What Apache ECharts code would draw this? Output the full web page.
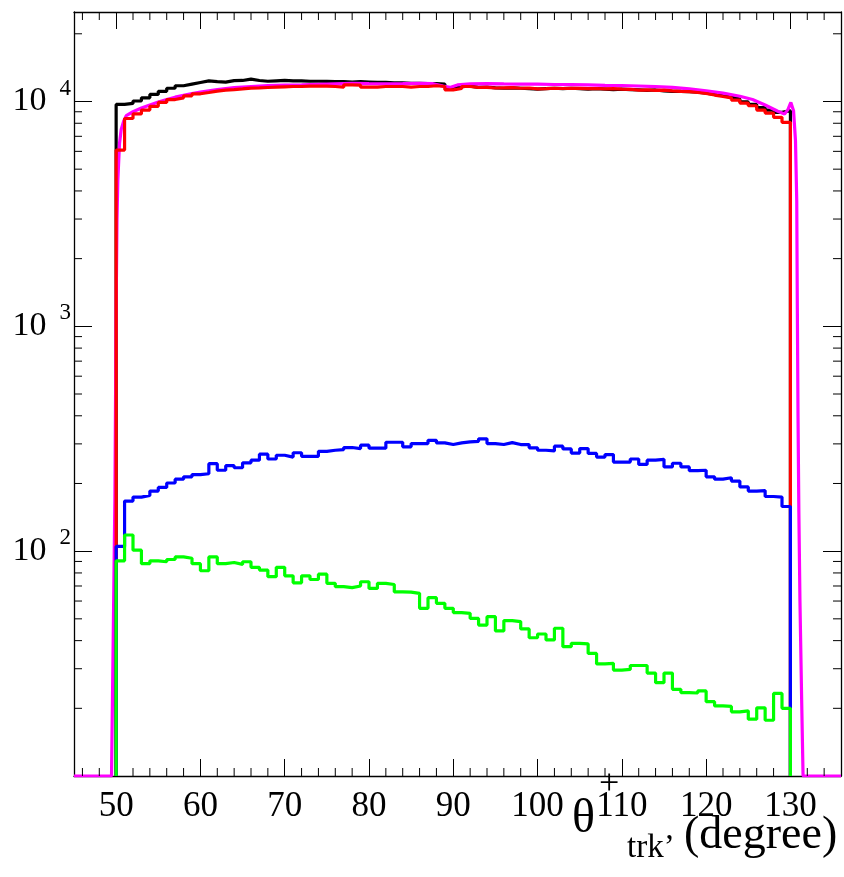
<!DOCTYPE html>
<html><head><meta charset="utf-8">
<script src="https://cdn.jsdelivr.net/npm/echarts@6/dist/echarts.min.js"></script>
<style>html,body{margin:0;padding:0;background:#fff}#c{width:844px;height:877px}</style>
</head><body><div id="c"></div>
<script>
// ---- data ----
const binStart = 50;      // first bin low edge (degree)
const binWidth = 1;       // bin width (degree)
const blackCounts = [9700, 9800, 10050, 10380, 10750, 11100, 11450, 11750, 11950, 12150,
 12350, 12250, 12200, 12380, 12400, 12570, 12400, 12300, 12350, 12400,
 12350, 12350, 12300, 12300, 12280, 12250, 12250, 12200, 12250, 12200,
 12150, 12150, 12100, 12100, 12050, 12050, 12000, 12000, 11950, 11500,
 11650, 11700, 11550, 11600, 11500, 11450, 11500, 11450, 11400, 11350,
 11400, 11450, 11400, 11450, 11400, 11350, 11400, 11350, 11300, 11350,
 11300, 11250, 11200, 11250, 11150, 11100, 11100, 11050, 11000, 10900,
 10750, 10600, 10450, 10250, 9950, 9700, 9400, 9150, 8950, 9100];
const redCounts = [6080, 8400, 8800, 9160, 9520, 9900, 10200, 10380, 10600, 10820,
 10960, 11120, 11230, 11300, 11380, 11470, 11500, 11540, 11580, 11620,
 11660, 11660, 11710, 11710, 11710, 11660, 11580, 11860, 11830, 11580,
 11580, 11660, 11660, 11660, 11580, 11660, 11660, 11750, 11660, 11270,
 11420, 11660, 11540, 11560, 11480, 11500, 11520, 11450, 11480, 11380,
 11400, 11450, 11420, 11450, 11430, 11400, 11420, 11380, 11400, 11350,
 11330, 11240, 11250, 11200, 11230, 11150, 11080, 11060, 10960, 10850,
 10680, 10520, 10380, 10140, 9840, 9570, 9160, 8880, 8500, 8080];
const blueCounts = [105, 167, 174, 177, 185, 192, 201, 209, 214, 219,
 221, 245, 229, 240, 235, 247, 254, 270, 257, 267,
 262, 274, 264, 264, 278, 281, 283, 289, 286, 296,
 287, 287, 305, 305, 291, 301, 301, 311, 303, 298,
 303, 306, 308, 316, 301, 298, 304, 298, 298, 288,
 281, 279, 293, 285, 273, 286, 272, 262, 269, 249,
 249, 257, 243, 254, 256, 237, 246, 237, 228, 229,
 214, 209, 212, 205, 193, 185, 186, 175, 174, 158];
const greenCounts = [90.6, 118, 101, 88, 90.6, 89.7, 91.8, 94.3, 93, 88,
 81.8, 94.3, 88, 89, 87.3, 89.7, 84.7, 82.4, 77, 84.7,
 77.7, 72.3, 77.7, 74.8, 79, 71.9, 69.5, 68.8, 70, 73.1,
 68.3, 71.9, 71.1, 65.9, 65.7, 64.9, 55.7, 62.1, 58.6, 55.7,
 53.3, 52.9, 50.2, 46.9, 51.1, 44.2, 49.1, 48.6, 45.1, 41.2,
 42.8, 40.3, 45.4, 37.6, 38.9, 38.7, 35.1, 31.5, 31.7, 29.6,
 29.8, 31, 31, 28.7, 26, 28.7, 24.3, 23.5, 23.4, 23.9,
 21.4, 20.5, 20.4, 19.3, 19.5, 17.9, 20.1, 17.7, 23.3, 20];
const magentaX = [45, 49.45, 49.65, 49.85, 50.0, 50.1, 50.2, 50.4, 50.6, 50.9,
 51.2, 52, 53, 54, 55, 56, 57, 58, 59, 60,
 61, 62, 63, 64, 66, 68, 70, 72, 74, 76,
 78, 80, 82, 84, 86, 87.5, 88.8, 89.6, 90.5, 92,
 94, 96, 98, 100, 102, 104, 106, 108, 110, 112,
 114, 116, 118, 120, 122, 124, 125.5, 127, 128.5, 129.3,
 129.7, 130.05, 130.37, 130.6, 130.75, 130.82, 130.9, 131.0, 131.13, 131.33,
 131.5, 136];
const magentaY = [10, 10, 40, 170, 1200, 3000, 4450, 6500, 7500, 8200,
 8650, 9000, 9350, 9650, 9950, 10200, 10450, 10650, 10850, 11000,
 11150, 11300, 11420, 11520, 11650, 11760, 11820, 11870, 11930, 11980,
 12030, 12000, 11980, 12000, 12050, 12000, 11700, 11550, 11850, 11980,
 12000, 11970, 11950, 11950, 11900, 11880, 11850, 11800, 11760, 11720,
 11650, 11550, 11380, 11150, 10900, 10550, 10200, 9650, 9050, 8800,
 9200, 9900, 9100, 6700, 3600, 1200, 400, 150, 60, 22,
 10, 10];
const xTickLabels = [50, 60, 70, 80, 90, 100, 110, 120, 130];
const yLabelExponents = [2, 3, 4];
const xRange = [45, 136];
const yRange = [10, 25000];
const axisTitle = { theta: 'θ', sup: '+', sub: 'trk’', unit: '(degree)' };

// ---- helpers ----
function histPoints(counts) {
  const pts = [[binStart, yRange[0]]];
  counts.forEach((c, i) => pts.push([binStart + i * binWidth, c]));
  const end = binStart + counts.length * binWidth;
  pts.push([end, counts[counts.length - 1]]);
  pts.push([end, yRange[0]]);
  return pts;
}
const magentaPts = magentaX.map((x, i) => [x, magentaY[i]]);

// minor tick positions (structure of the axes, not data)
const xMinor = [];
for (let v = xRange[0] + 1; v < xRange[1]; v += 2) if (v % 10 !== 0) xMinor.push([v, yRange[0]]);
const yMinor = [];
[10, 100, 1000, 10000].forEach(d => { for (let m = 2; m <= 9; m++) if (d * m < yRange[1]) yMinor.push([xRange[0], d * m]); });

const SERIF = "'Liberation Serif', 'DejaVu Serif', serif";

function histSeries(name, counts, color) {
  return { name, type: 'line', step: 'end', data: histPoints(counts), symbol: 'none',
    lineStyle: { color, width: 3.2 }, itemStyle: { color }, clip: true, animation: false };
}

const chart = echarts.init(document.getElementById('c'), null, { renderer: 'canvas' });
chart.setOption({
  backgroundColor: '#fff',
  animation: false,
  grid: { left: 74, top: 12, width: 767, height: 764, containLabel: false, outerBoundsMode: 'none' },
  xAxis: [{
    type: 'value', min: xRange[0], max: xRange[1], splitNumber: 9, position: 'bottom',
    axisLine: { show: true, onZero: false, lineStyle: { color: '#000', width: 1.3 } },
    axisTick: { show: true, inside: true, length: 17, lineStyle: { color: '#000', width: 1 } },
    splitLine: { show: false },
    axisLabel: { show: true, margin: 13, color: '#000', fontFamily: SERIF, fontSize: 35, lineHeight: 36,
      formatter: v => (xTickLabels.indexOf(Math.round(v)) >= 0 && Math.abs(v - Math.round(v)) < 1e-6) ? String(Math.round(v)) : '' ,
      showMinLabel: true, showMaxLabel: true, hideOverlap: false }
  }, {
    type: 'value', min: xRange[0], max: xRange[1], splitNumber: 9, position: 'top',
    axisLine: { show: true, onZero: false, lineStyle: { color: '#000', width: 1.3 } },
    axisTick: { show: true, inside: true, length: 17, lineStyle: { color: '#000', width: 1 } },
    splitLine: { show: false }, axisLabel: { show: false }
  }],
  yAxis: [{
    type: 'log', logBase: 10, min: yRange[0], max: yRange[1], position: 'left',
    axisLine: { show: true, onZero: false, lineStyle: { color: '#000', width: 1.3 } },
    axisTick: { show: true, inside: true, length: 18, lineStyle: { color: '#000', width: 1 } },
    splitLine: { show: false },
    axisLabel: {
      show: true, margin: 3, color: '#000', hideOverlap: false,
      formatter: v => {
        const e = Math.round(Math.log10(v));
        if (Math.abs(v - Math.pow(10, e)) / v < 1e-6 && yLabelExponents.indexOf(e) >= 0) return '{b|10}{s|' + e + '}';
        return '';
      },
      rich: {
        b: { fontFamily: SERIF, fontSize: 34, lineHeight: 34, color: '#000', verticalAlign: 'middle' },
        s: { fontFamily: SERIF, fontSize: 23, lineHeight: 23, color: '#000', verticalAlign: 'middle', padding: [0, 0, 26, 13] }
      }
    }
  }, {
    type: 'log', logBase: 10, min: yRange[0], max: yRange[1], position: 'right',
    axisLine: { show: true, onZero: false, lineStyle: { color: '#000', width: 1.3 } },
    axisTick: { show: true, inside: true, length: 18, lineStyle: { color: '#000', width: 1 } },
    splitLine: { show: false }, axisLabel: { show: false }
  }],
  series: [
    histSeries('black', blackCounts, '#000000'),
    { name: 'magenta', type: 'line', data: magentaPts, symbol: 'none', smooth: false,
      lineStyle: { color: '#ff00ff', width: 3.2 }, itemStyle: { color: '#ff00ff' }, clip: true, animation: false },
    histSeries('red', redCounts, '#ff0000'),
    histSeries('blue', blueCounts, '#0000ff'),
    histSeries('green', greenCounts, '#00ff00'),
    { name: 'xminor', type: 'custom', data: xMinor, silent: true, animation: false, z: 5,
      renderItem: (params, api) => {
        const cs = params.coordSys;
        const p = api.coord([api.value(0), api.value(1)]);
        return { type: 'group', children: [
          { type: 'line', shape: { x1: p[0], y1: cs.y + cs.height, x2: p[0], y2: cs.y + cs.height - 8 }, style: { stroke: '#000', lineWidth: 1 } },
          { type: 'line', shape: { x1: p[0], y1: cs.y, x2: p[0], y2: cs.y + 8 }, style: { stroke: '#000', lineWidth: 1 } }
        ]};
      } },
    { name: 'yminor', type: 'custom', data: yMinor, silent: true, animation: false, z: 5,
      renderItem: (params, api) => {
        const cs = params.coordSys;
        const p = api.coord([api.value(0), api.value(1)]);
        return { type: 'group', children: [
          { type: 'line', shape: { x1: cs.x, y1: p[1], x2: cs.x + 8, y2: p[1] }, style: { stroke: '#000', lineWidth: 1 } },
          { type: 'line', shape: { x1: cs.x + cs.width, y1: p[1], x2: cs.x + cs.width - 8, y2: p[1] }, style: { stroke: '#000', lineWidth: 1 } }
        ]};
      } }
  ],
  graphic: [
    { type: 'text', left: 572, top: 795, style: { text: axisTitle.theta, font: '48px ' + SERIF, fill: '#000' } },
    { type: 'text', left: 599, top: 767, style: { text: axisTitle.sup, font: '36px ' + SERIF, fill: '#000' } },
    { type: 'text', left: 627, top: 832, style: { text: axisTitle.sub, font: '33px ' + SERIF, fill: '#000' } },
    { type: 'text', left: 684, top: 813, style: { text: axisTitle.unit, font: '46px ' + SERIF, fill: '#000' } }
  ]
});
</script>
</body></html>
